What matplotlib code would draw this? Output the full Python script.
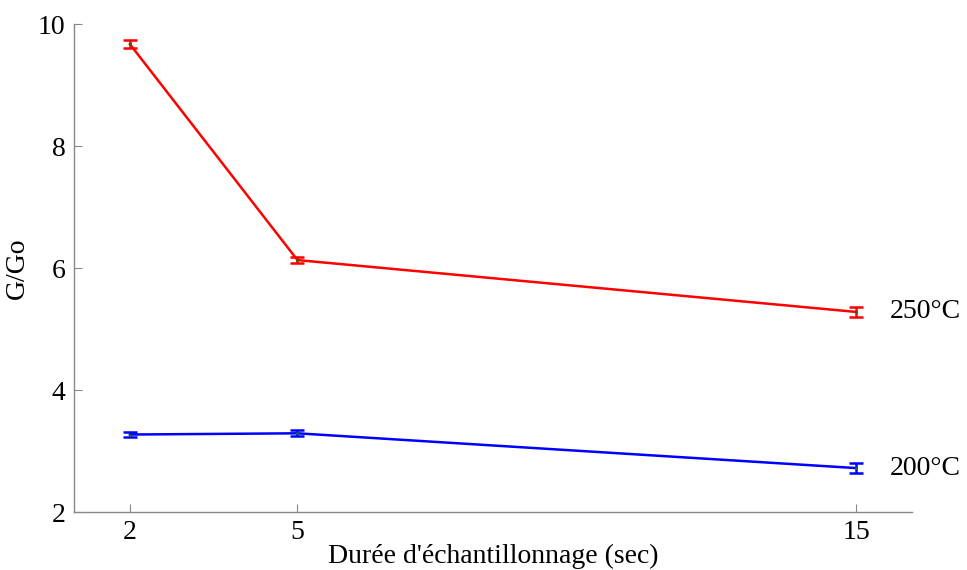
import numpy as np
import matplotlib
matplotlib.use("Agg")
import matplotlib.pyplot as plt

# data
durations = [2, 5, 15]
g_250 = [9.67, 6.13, 5.28]
err_250 = [0.07, 0.05, 0.08]
g_200 = [3.27, 3.29, 2.72]
err_200 = [0.04, 0.05, 0.08]
series_labels = ["250°C", "200°C"]
x_ticks = [2, 5, 15]
y_ticks = [2, 4, 6, 8, 10]

plt.rcParams['font.family'] = ['Liberation Serif', 'DejaVu Serif']

fig = plt.figure(figsize=(9.67, 5.7), dpi=100)
ax = fig.add_axes([74 / 967, 1 - 512 / 570, (912 - 74) / 967, (512 - 24) / 570])

for y, e, col, lab in [(g_250, err_250, 'red', series_labels[0]),
                       (g_200, err_200, 'blue', series_labels[1])]:
    ax.errorbar(durations, y, yerr=e, color=col, lw=1.8, capsize=5, capthick=1.8,
                elinewidth=1.8, marker='.', markersize=2, markerfacecolor='green',
                markeredgecolor='green')
    ax.text(durations[-1] + 0.6, y[-1], lab, fontsize=20, va='center', ha='left')

ax.set_xlim(1, 16)
ax.set_ylim(2, 10)
ax.set_xticks(x_ticks)
ax.set_yticks(y_ticks)

for s in ['top', 'right']:
    ax.spines[s].set_visible(False)
for s in ['left', 'bottom']:
    ax.spines[s].set_color('#888888')
    ax.spines[s].set_linewidth(1.0)
ax.tick_params(direction='in', length=6, color='#888888', labelsize=20, pad=6)

ax.set_xlabel("Durée d'échantillonnage (sec)", fontsize=20, labelpad=-1)
ax.set_ylabel("G/Go", fontsize=20, labelpad=6)

fig.savefig("out.png", dpi=100)
